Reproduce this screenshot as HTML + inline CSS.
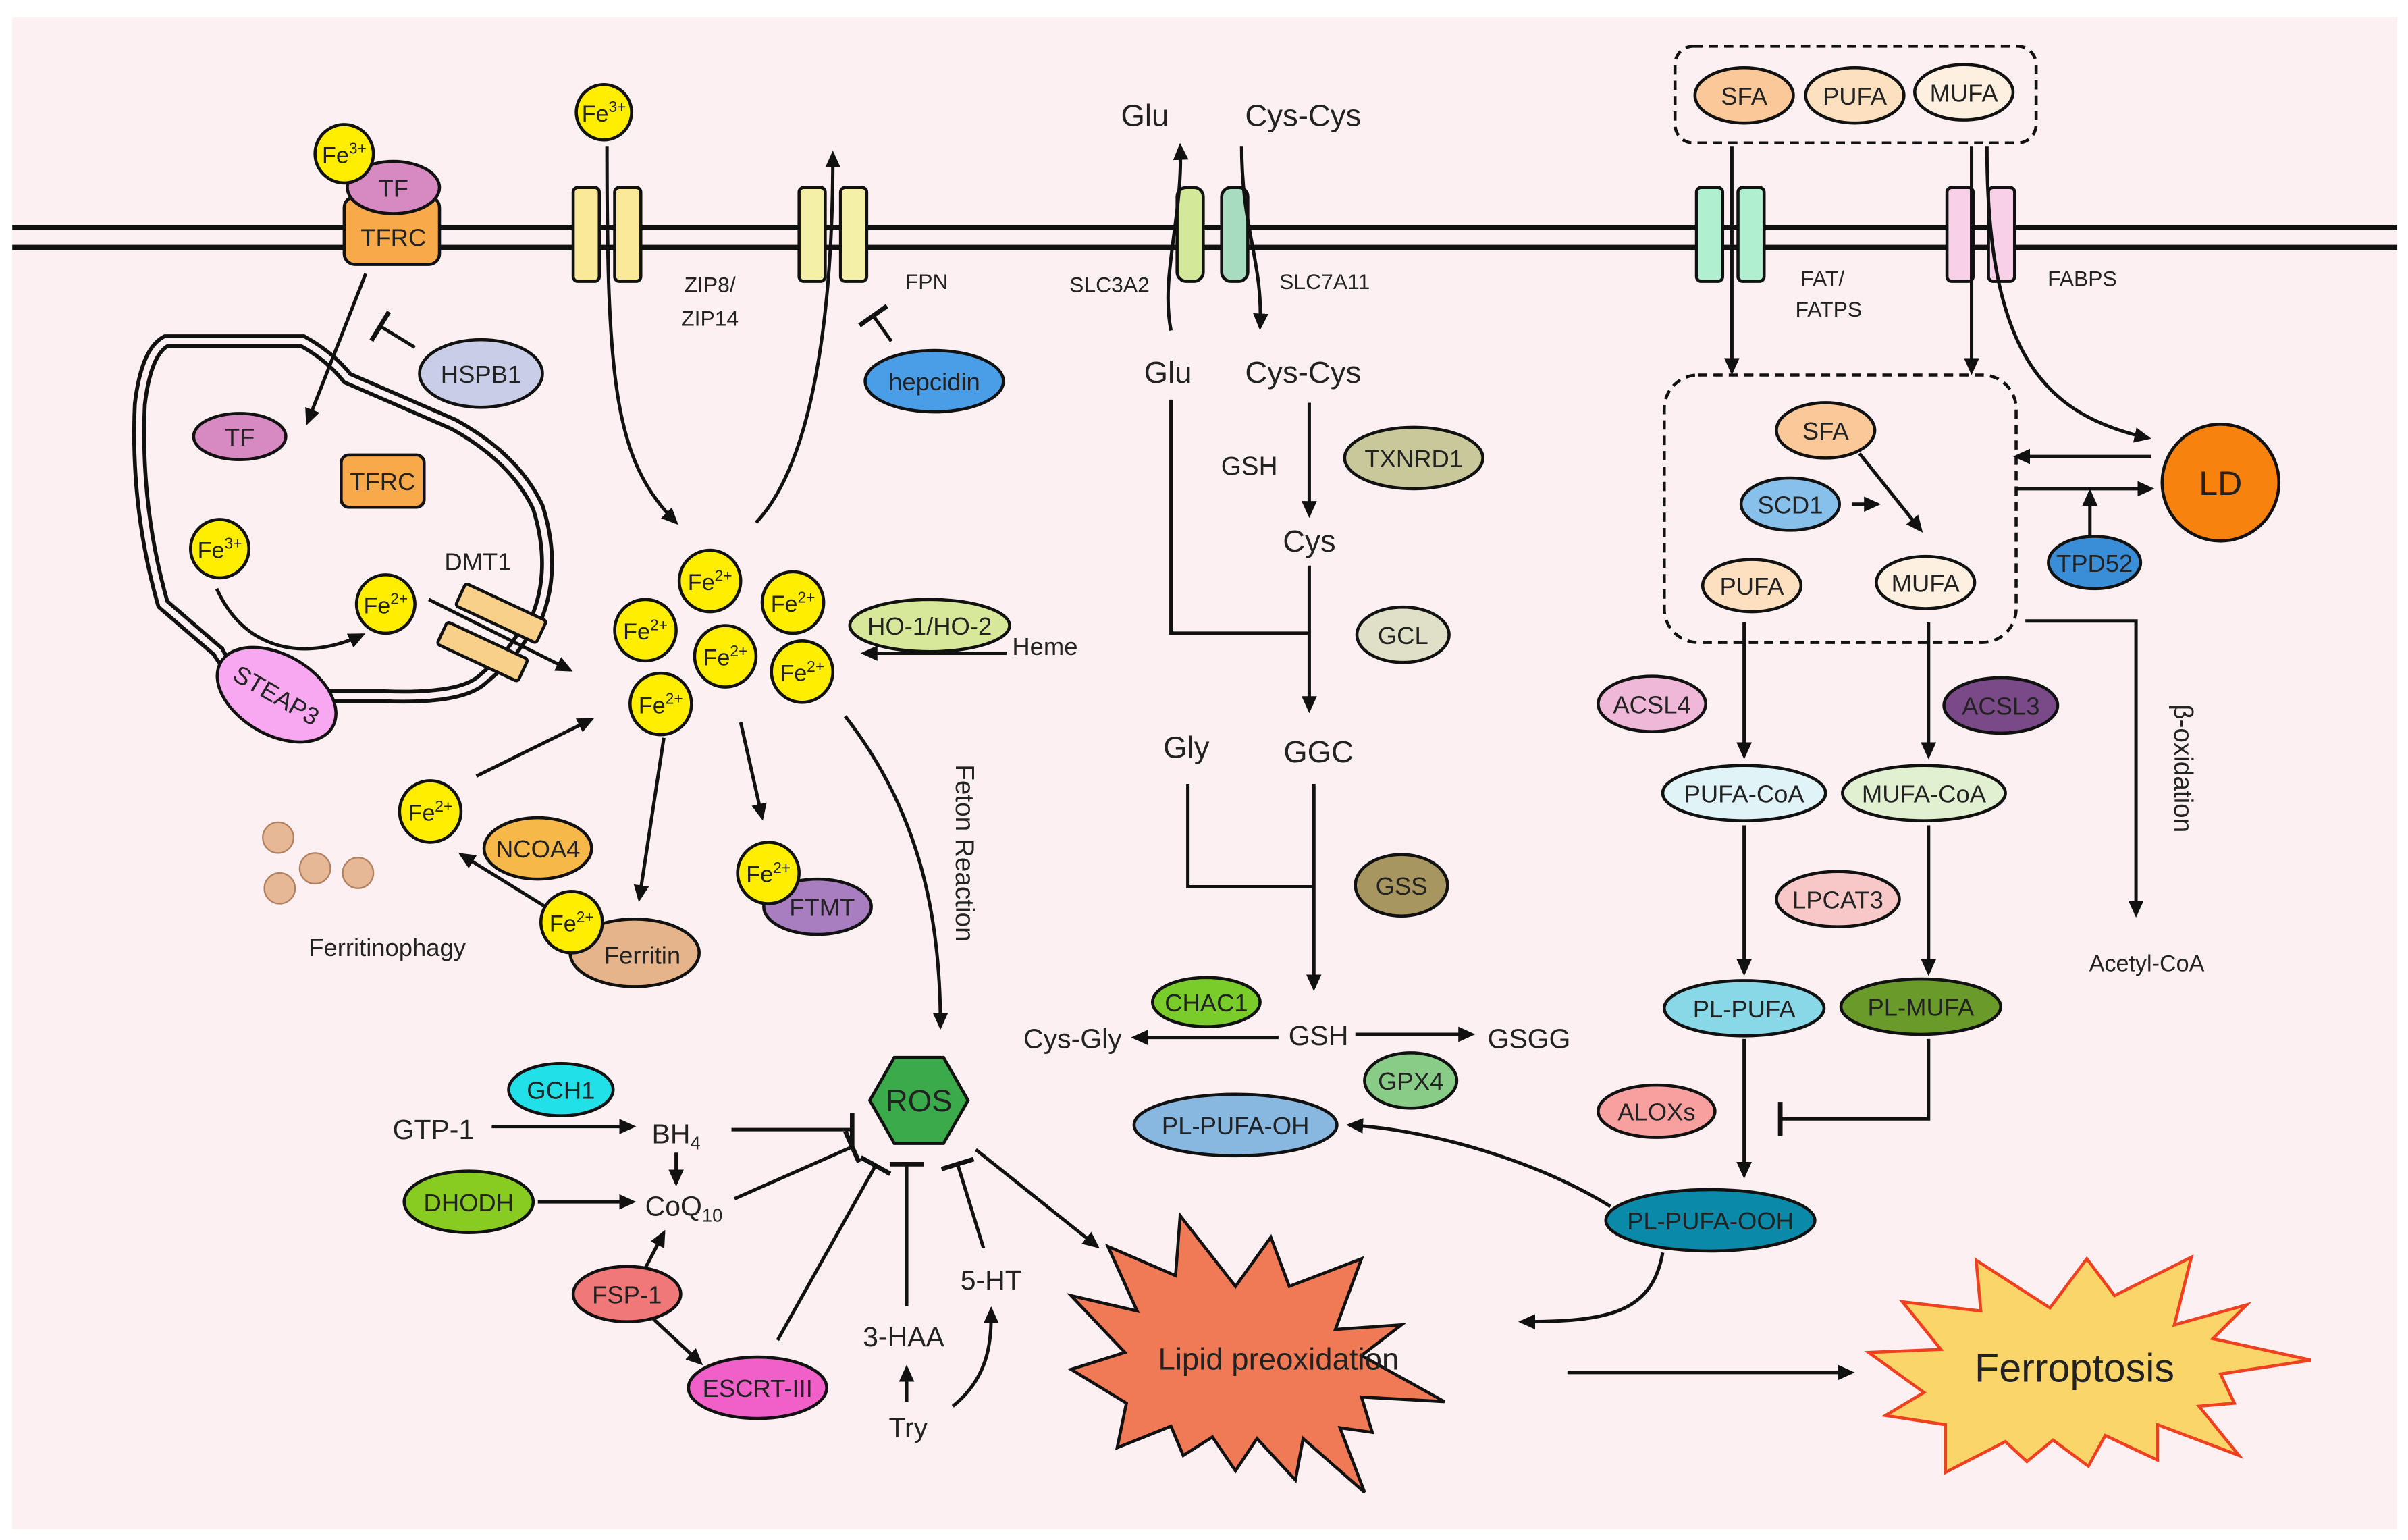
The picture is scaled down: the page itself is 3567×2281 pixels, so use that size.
<!DOCTYPE html>
<html><head><meta charset="utf-8"><style>
html,body{margin:0;padding:0;background:#fff}
svg{display:block}
text{font-family:"Liberation Sans",sans-serif;fill:#222}
</style></head><body>
<svg width="3567" height="2281" viewBox="0 0 1567 1002" xmlns="http://www.w3.org/2000/svg">
<defs>
<marker id="a" markerWidth="12" markerHeight="12" refX="9" refY="6" orient="auto" markerUnits="userSpaceOnUse"><path d="M0,1 L11,6 L0,11 Z" fill="#111"/></marker>
<marker id="t" markerWidth="4" markerHeight="22" refX="2" refY="11" orient="auto" markerUnits="userSpaceOnUse"><rect x="0" y="0" width="3" height="22" fill="#111"/></marker>
</defs>
<rect x="0" y="0" width="1567" height="1002" fill="#fff"/>
<rect x="8" y="11" width="1552" height="984" fill="#fcf0f2"/>
<g stroke="#111" stroke-width="3.5"><line x1="8" y1="148" x2="1560" y2="148"/><line x1="8" y1="161" x2="1560" y2="161"/></g>

<path d="M108,222 L197,222 Q215,232 226,246 L295,276 Q335,298 350,330 Q362,368 350,400 L330,428 L314,442 Q300,455 250,453 L200,453 Q150,442 142,424 L106,393 Q88,330 91,263 Q95,229 108,222 Z" fill="none" stroke="#111" stroke-width="9"/>
<path d="M108,222 L197,222 Q215,232 226,246 L295,276 Q335,298 350,330 Q362,368 350,400 L330,428 L314,442 Q300,455 250,453 L200,453 Q150,442 142,424 L106,393 Q88,330 91,263 Q95,229 108,222 Z" fill="none" stroke="#fcf0f2" stroke-width="4"/>

<g stroke="#111" stroke-width="2" font-size="16">
<rect x="224" y="128" width="62" height="44" rx="7" fill="#f8a94a"/>
<ellipse cx="256" cy="122" rx="30" ry="17" fill="#d78ac2"/>
<circle cx="224" cy="100" r="19" fill="#ffee00"/>
<circle cx="393" cy="73" r="18" fill="#ffee00"/>
<rect x="373" y="122" width="17" height="61" rx="3" fill="#fbe99a"/><rect x="400" y="122" width="17" height="61" rx="3" fill="#fbe99a"/>
<rect x="520" y="122" width="17" height="61" rx="3" fill="#f4f0a8"/><rect x="547" y="122" width="17" height="61" rx="3" fill="#f4f0a8"/>
<rect x="766" y="122" width="17" height="61" rx="6" fill="#d4e89a"/><rect x="795" y="122" width="17" height="61" rx="6" fill="#a8dcc0"/>
<rect x="1104" y="122" width="17" height="61" rx="3" fill="#b0f0d0"/><rect x="1131" y="122" width="17" height="61" rx="3" fill="#b0f0d0"/>
<rect x="1267" y="122" width="17" height="61" rx="3" fill="#f8d0e8"/><rect x="1294" y="122" width="17" height="61" rx="3" fill="#f8d0e8"/>
<ellipse cx="608" cy="248" rx="45" ry="20" fill="#4a9ee8"/>
<ellipse cx="313" cy="243" rx="40" ry="22" fill="#c9cde8"/>
<ellipse cx="156" cy="284" rx="30" ry="15" fill="#d78ac2"/>
<rect x="222" y="296" width="54" height="34" rx="5" fill="#f8a94a"/>
<circle cx="143" cy="357" r="19" fill="#ffee00"/>
<circle cx="251" cy="393" r="19" fill="#ffee00"/>
<ellipse cx="180" cy="452" rx="42" ry="26" fill="#f7a8f0" transform="rotate(30 180 452)"/>
<rect x="297" y="391" width="58" height="16" rx="2" fill="#f8d08a" transform="rotate(25 326 399)"/>
<rect x="285" y="416" width="58" height="16" rx="2" fill="#f8d08a" transform="rotate(25 314 424)"/>
<circle cx="462" cy="378" r="20" fill="#ffee00"/><circle cx="516" cy="392" r="20" fill="#ffee00"/>
<circle cx="420" cy="410" r="20" fill="#ffee00"/><circle cx="472" cy="427" r="20" fill="#ffee00"/>
<circle cx="522" cy="437" r="20" fill="#ffee00"/><circle cx="430" cy="458" r="20" fill="#ffee00"/>
<ellipse cx="605" cy="407" rx="52" ry="17" fill="#d8e89a"/>
<ellipse cx="350" cy="552" rx="35" ry="20" fill="#f7b84a"/>
<ellipse cx="413" cy="620" rx="42" ry="22" fill="#e6b48a"/>
<circle cx="280" cy="528" r="20" fill="#ffee00"/>
<circle cx="372" cy="600" r="20" fill="#ffee00"/>
<ellipse cx="532" cy="590" rx="35" ry="18" fill="#a87ec0"/>
<circle cx="500" cy="568" r="20" fill="#ffee00"/>
<g stroke="#b08060" stroke-width="1"><circle cx="181" cy="545" r="10" fill="#e6b896"/><circle cx="205" cy="565" r="10" fill="#e6b896"/><circle cx="233" cy="568" r="10" fill="#e6b896"/><circle cx="182" cy="578" r="10" fill="#e6b896"/></g>
<polygon points="566,716 582,688 614,688 630,716 614,744 582,744" fill="#3aaa4a"/>
<ellipse cx="365" cy="709" rx="34" ry="17" fill="#22e0e8"/>
<ellipse cx="305" cy="782" rx="42" ry="20" fill="#88cc22"/>
<ellipse cx="408" cy="842" rx="35" ry="18" fill="#f07878"/>
<ellipse cx="493" cy="903" rx="45" ry="20" fill="#f060c8"/>
<polygon points="721,811 765,830 768,791 804,837 827,805 839,837 886,819 869,865 912,862 886,882 940,912 886,909 893,932 872,929 888,971 848,936 843,963 818,936 804,957 789,935 770,947 762,928 727,942 733,913 697,891 732,880 697,843 740,853" fill="#f07a56"/>
<polygon points="1286,820 1334,851 1358,819 1376,843 1426,818 1415,862 1462,849 1440,871 1504,885 1445,894 1454,913 1431,915 1457,947 1404,927 1404,950 1370,934 1359,954 1336,937 1319,951 1305,938 1266,958 1266,927 1227,921 1252,906 1216,880 1263,878 1238,847 1289,853" fill="#fad56a" stroke="#f04020"/>
<ellipse cx="920" cy="298" rx="45" ry="20" fill="#c8c89a"/>
<ellipse cx="913" cy="413" rx="30" ry="18" fill="#e0e0c8"/>
<ellipse cx="912" cy="576" rx="30" ry="20" fill="#a89660"/>
<ellipse cx="785" cy="652" rx="35" ry="16" fill="#7acc2a"/>
<ellipse cx="918" cy="703" rx="30" ry="18" fill="#88cc88"/>
<ellipse cx="804" cy="732" rx="66" ry="20" fill="#88b8e0"/>
<rect x="1090" y="30" width="235" height="63" rx="12" fill="none" stroke-dasharray="6,4"/>
<ellipse cx="1135" cy="62" rx="32" ry="18" fill="#fbc89a"/>
<ellipse cx="1207" cy="62" rx="32" ry="18" fill="#fde0c0"/>
<ellipse cx="1278" cy="60" rx="32" ry="18" fill="#fdf0e0"/>
<rect x="1083" y="244" width="229" height="174" rx="22" fill="none" stroke-dasharray="6,4"/>
<ellipse cx="1188" cy="280" rx="32" ry="18" fill="#fbc89a"/>
<ellipse cx="1165" cy="328" rx="32" ry="17" fill="#88c0ec"/>
<ellipse cx="1140" cy="381" rx="32" ry="17" fill="#fde0c0"/>
<ellipse cx="1253" cy="379" rx="32" ry="17" fill="#fdf0e0"/>
<circle cx="1445" cy="314" r="38" fill="#f8820e"/>
<ellipse cx="1363" cy="366" rx="30" ry="17" fill="#3a8ed8"/>
<ellipse cx="1075" cy="458" rx="35" ry="18" fill="#f0b8d8"/>
<ellipse cx="1302" cy="459" rx="37" ry="18" fill="#7a4a88"/>
<ellipse cx="1135" cy="516" rx="53" ry="18" fill="#e0f4f8"/>
<ellipse cx="1252" cy="516" rx="53" ry="18" fill="#e0f0d0"/>
<ellipse cx="1196" cy="585" rx="40" ry="18" fill="#f8c8c8"/>
<ellipse cx="1135" cy="656" rx="52" ry="18" fill="#88d8e8"/>
<ellipse cx="1250" cy="655" rx="52" ry="18" fill="#6a9a2a"/>
<ellipse cx="1078" cy="723" rx="38" ry="17" fill="#f8a0a0"/>
<ellipse cx="1113" cy="794" rx="68" ry="20" fill="#0a8aa8"/>
</g>

<g stroke="#111" stroke-width="2.2" fill="none">
<path d="M395,95 C395,250 400,300 440,340" marker-end="url(#a)"/>
<path d="M492,340 C530,300 542,200 542,100" marker-end="url(#a)"/>
<line x1="580" y1="222" x2="568" y2="205" marker-end="url(#t)"/>
<line x1="270" y1="226" x2="247" y2="212" marker-end="url(#t)"/>
<line x1="238" y1="178" x2="200" y2="275" marker-end="url(#a)"/>
<path d="M141,383 C160,425 200,430 236,413" marker-end="url(#a)"/>
<line x1="279" y1="390" x2="371" y2="436" marker-end="url(#a)"/>
<line x1="655" y1="425" x2="562" y2="425" marker-end="url(#a)"/>
<line x1="310" y1="505" x2="385" y2="468" marker-end="url(#a)"/>
<line x1="432" y1="480" x2="416" y2="585" marker-end="url(#a)"/>
<line x1="482" y1="470" x2="496" y2="532" marker-end="url(#a)"/>
<line x1="355" y1="590" x2="300" y2="556" marker-end="url(#a)"/>
<path d="M550,466 C600,530 612,600 612,668" marker-end="url(#a)"/>
<line x1="320" y1="733" x2="412" y2="733" marker-end="url(#a)"/>
<line x1="476" y1="735" x2="555" y2="735" marker-end="url(#t)"/>
<line x1="440" y1="750" x2="440" y2="770" marker-end="url(#a)"/>
<line x1="350" y1="782" x2="412" y2="782" marker-end="url(#a)"/>
<line x1="478" y1="780" x2="555" y2="746" marker-end="url(#t)"/>
<line x1="420" y1="825" x2="432" y2="802" marker-end="url(#a)"/>
<line x1="425" y1="858" x2="456" y2="887" marker-end="url(#a)"/>
<line x1="506" y1="872" x2="570" y2="758" marker-end="url(#t)"/>
<line x1="590" y1="850" x2="590" y2="757" marker-end="url(#t)"/>
<line x1="590" y1="912" x2="590" y2="890" marker-end="url(#a)"/>
<path d="M620,915 C645,895 645,870 645,852" marker-end="url(#a)"/>
<line x1="640" y1="812" x2="623" y2="757" marker-end="url(#t)"/>
<line x1="635" y1="748" x2="714" y2="811" marker-end="url(#a)"/>
<line x1="1020" y1="893" x2="1205" y2="893" marker-end="url(#a)"/>
<path d="M762,215 C755,180 770,140 768,95" marker-end="url(#a)"/>
<path d="M808,95 C808,150 822,170 820,213" marker-end="url(#a)"/>
<line x1="852" y1="262" x2="852" y2="335" marker-end="url(#a)"/>
<polyline points="762,260 762,412 852,412"/>
<line x1="852" y1="368" x2="852" y2="462" marker-end="url(#a)"/>
<polyline points="773,510 773,577 855,577"/>
<line x1="855" y1="510" x2="855" y2="643" marker-end="url(#a)"/>
<line x1="832" y1="675" x2="738" y2="675" marker-end="url(#a)"/>
<line x1="882" y1="673" x2="958" y2="673" marker-end="url(#a)"/>
<path d="M1048,785 C1000,755 930,735 878,732" marker-end="url(#a)"/>
<line x1="1127" y1="95" x2="1127" y2="242" marker-end="url(#a)"/>
<line x1="1283" y1="95" x2="1283" y2="242" marker-end="url(#a)"/>
<path d="M1293,95 C1293,230 1330,270 1398,285" marker-end="url(#a)"/>
<line x1="1400" y1="297" x2="1312" y2="297" marker-end="url(#a)"/>
<line x1="1312" y1="318" x2="1400" y2="318" marker-end="url(#a)"/>
<line x1="1360" y1="350" x2="1360" y2="320" marker-end="url(#a)"/>
<line x1="1205" y1="328" x2="1222" y2="328" marker-end="url(#a)"/>
<line x1="1210" y1="295" x2="1250" y2="345" marker-end="url(#a)"/>
<polyline points="1318,404 1390,404 1390,595" marker-end="url(#a)"/>
<line x1="1135" y1="405" x2="1135" y2="492" marker-end="url(#a)"/>
<line x1="1255" y1="405" x2="1255" y2="492" marker-end="url(#a)"/>
<line x1="1135" y1="537" x2="1135" y2="633" marker-end="url(#a)"/>
<line x1="1255" y1="537" x2="1255" y2="633" marker-end="url(#a)"/>
<line x1="1135" y1="676" x2="1135" y2="765" marker-end="url(#a)"/>
<polyline points="1255,676 1255,728 1158,728" marker-end="url(#t)"/>
<path d="M1082,815 C1075,855 1045,860 990,860" marker-end="url(#a)"/>
</g>

<g font-size="16" text-anchor="middle">
<text x="256" y="160">TFRC</text><text x="256" y="128">TF</text>
<text x="224" y="106" font-size="15">Fe<tspan font-size="10" dy="-6">3+</tspan></text>
<text x="393" y="79" font-size="15">Fe<tspan font-size="10" dy="-6">3+</tspan></text>
<text x="143" y="363" font-size="15">Fe<tspan font-size="10" dy="-6">3+</tspan></text>
<text x="251" y="399" font-size="15">Fe<tspan font-size="10" dy="-6">2+</tspan></text>
<text x="462" y="384" font-size="15">Fe<tspan font-size="10" dy="-6">2+</tspan></text>
<text x="516" y="398" font-size="15">Fe<tspan font-size="10" dy="-6">2+</tspan></text>
<text x="420" y="416" font-size="15">Fe<tspan font-size="10" dy="-6">2+</tspan></text>
<text x="472" y="433" font-size="15">Fe<tspan font-size="10" dy="-6">2+</tspan></text>
<text x="522" y="443" font-size="15">Fe<tspan font-size="10" dy="-6">2+</tspan></text>
<text x="430" y="464" font-size="15">Fe<tspan font-size="10" dy="-6">2+</tspan></text>
<text x="280" y="534" font-size="15">Fe<tspan font-size="10" dy="-6">2+</tspan></text>
<text x="372" y="606" font-size="15">Fe<tspan font-size="10" dy="-6">2+</tspan></text>
<text x="500" y="574" font-size="15">Fe<tspan font-size="10" dy="-6">2+</tspan></text>
<text x="313" y="249">HSPB1</text><text x="608" y="254">hepcidin</text>
<text x="156" y="290">TF</text><text x="249" y="319">TFRC</text>
<text x="180" y="458" transform="rotate(30 180 452)">STEAP3</text>
<text x="311" y="371">DMT1</text>
<text x="605" y="413">HO-1/HO-2</text>
<text x="680" y="426">Heme</text>
<text x="350" y="558">NCOA4</text><text x="418" y="627">Ferritin</text><text x="535" y="596">FTMT</text>
<text x="252" y="622">Ferritinophagy</text>
<text x="622" y="555" font-size="17" transform="rotate(90 622 555)">Feton Reaction</text>
<text x="598" y="723" font-size="20">ROS</text>
<text x="365" y="715">GCH1</text><text x="305" y="788">DHODH</text><text x="408" y="848">FSP-1</text><text x="493" y="909">ESCRT-III</text>
<text x="282" y="741" font-size="18">GTP-1</text>
<text x="440" y="744" font-size="18">BH<tspan font-size="12" dy="4">4</tspan></text>
<text x="445" y="791" font-size="18">CoQ<tspan font-size="12" dy="4">10</tspan></text>
<text x="588" y="876" font-size="18">3-HAA</text><text x="591" y="935" font-size="18">Try</text><text x="645" y="839" font-size="18">5-HT</text>
<text x="832" y="891" font-size="20">Lipid preoxidation</text>
<text x="1350" y="899" font-size="26">Ferroptosis</text>
<text x="745" y="82" font-size="20">Glu</text><text x="848" y="82" font-size="20">Cys-Cys</text>
<text x="722" y="190" font-size="14">SLC3A2</text><text x="862" y="188" font-size="14">SLC7A11</text>
<text x="462" y="190" font-size="14">ZIP8/</text><text x="462" y="212" font-size="14">ZIP14</text>
<text x="603" y="188" font-size="14">FPN</text>
<text x="760" y="249" font-size="20">Glu</text><text x="848" y="249" font-size="20">Cys-Cys</text>
<text x="813" y="309" font-size="17">GSH</text><text x="920" y="304">TXNRD1</text>
<text x="852" y="359" font-size="20">Cys</text><text x="913" y="419">GCL</text>
<text x="772" y="493" font-size="20">Gly</text><text x="858" y="496" font-size="20">GGC</text>
<text x="912" y="582">GSS</text><text x="785" y="658">CHAC1</text>
<text x="858" y="680" font-size="18">GSH</text><text x="698" y="682" font-size="18">Cys-Gly</text><text x="995" y="682" font-size="18">GSGG</text>
<text x="918" y="709">GPX4</text><text x="804" y="738">PL-PUFA-OH</text>
<text x="1135" y="68">SFA</text><text x="1207" y="68">PUFA</text><text x="1278" y="66">MUFA</text>
<text x="1186" y="186" font-size="14">FAT/</text><text x="1190" y="206" font-size="14">FATPS</text>
<text x="1355" y="186" font-size="14">FABPS</text>
<text x="1188" y="286">SFA</text><text x="1165" y="334">SCD1</text><text x="1140" y="387">PUFA</text><text x="1253" y="385">MUFA</text>
<text x="1445" y="322" font-size="22">LD</text><text x="1363" y="372">TPD52</text>
<text x="1415" y="500" font-size="17" transform="rotate(90 1415 500)">β-oxidation</text>
<text x="1397" y="632" font-size="15">Acetyl-CoA</text>
<text x="1075" y="464">ACSL4</text><text x="1302" y="465">ACSL3</text>
<text x="1135" y="522">PUFA-CoA</text><text x="1252" y="522">MUFA-CoA</text>
<text x="1196" y="591">LPCAT3</text>
<text x="1135" y="662">PL-PUFA</text><text x="1250" y="661">PL-MUFA</text>
<text x="1078" y="729">ALOXs</text><text x="1113" y="800">PL-PUFA-OOH</text>
</g>
</svg>
</body></html>
